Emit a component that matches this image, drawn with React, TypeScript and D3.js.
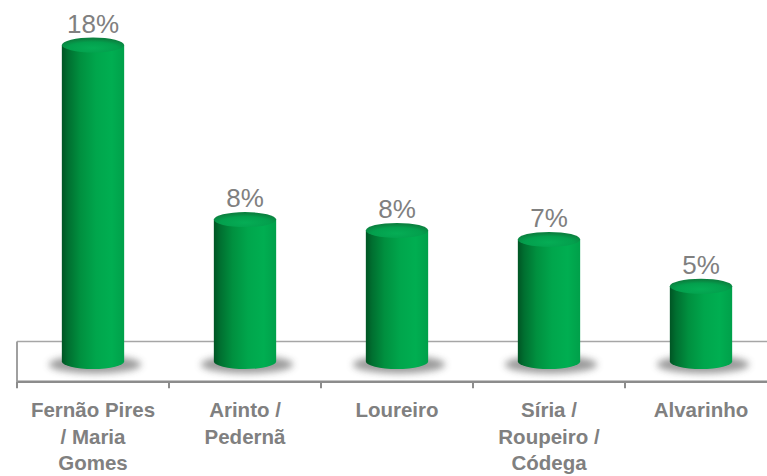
import { useEffect, useRef } from "react";
import * as d3 from "d3";

const WIDTH = 767;
const HEIGHT = 476;

// categories (line breaks as in the original labels)
const categories = [
  "Fernão Pires\n/ Maria\nGomes",
  "Arinto /\nPedernã",
  "Loureiro",
  "Síria /\nRoupeiro /\nCódega",
  "Alvarinho",
];
// share of area, %
const shares = [18.0, 8.3, 7.7, 7.2, 4.6];

const LABEL_GREY = "#808080";

function buildChart(svgEl: SVGSVGElement) {
  const svg = d3.select(svgEl);
  svg.selectAll("*").remove();

  const floorLeft = 17;
  const floorTop = 341.5;
  const floorBottom = 381.3;
  const bandStep = 152;

  const x = d3.scaleBand<string>()
    .domain(categories)
    .range([floorLeft, floorLeft + bandStep * categories.length])
    .padding(0);

  const y = d3.scaleLinear().domain([0, 18]).range([369, 45]);

  const rx = x.bandwidth() * 0.205;
  const ry = 7.5;
  const baseCy = 369 - ry;

  const defs = svg.append("defs");

  const side = defs.append("linearGradient").attr("id", "cyl-side")
    .attr("x1", 0).attr("y1", 0).attr("x2", 1).attr("y2", 0);
  [
    ["0%", "#005524"],
    ["10%", "#006f30"],
    ["30%", "#00903f"],
    ["55%", "#00a64c"],
    ["80%", "#00ae51"],
    ["100%", "#00a04a"],
  ].forEach(([o, c]) => side.append("stop").attr("offset", o).attr("stop-color", c));

  const top = defs.append("radialGradient").attr("id", "cyl-top")
    .attr("cx", "50%").attr("cy", "70%").attr("r", "60%");
  [
    ["0%", "#05ad55"],
    ["65%", "#03a04d"],
    ["100%", "#0b8240"],
  ].forEach(([o, c]) => top.append("stop").attr("offset", o).attr("stop-color", c));

  const blur = defs.append("filter").attr("id", "shadow-blur")
    .attr("x", "-50%").attr("y", "-100%").attr("width", "200%").attr("height", "300%");
  blur.append("feGaussianBlur").attr("stdDeviation", "3.5");

  // floor
  const floor = svg.append("g");
  floor.append("rect")
    .attr("x", floorLeft).attr("y", floorTop)
    .attr("width", WIDTH - floorLeft + 20).attr("height", floorBottom - floorTop)
    .attr("fill", "#ffffff");
  floor.append("line")
    .attr("x1", floorLeft).attr("x2", WIDTH + 20)
    .attr("y1", floorTop).attr("y2", floorTop)
    .attr("stroke", "#a6a6a6").attr("stroke-width", 1.5);
  floor.append("line")
    .attr("x1", floorLeft).attr("x2", floorLeft)
    .attr("y1", floorTop).attr("y2", floorBottom)
    .attr("stroke", "#a0a0a0").attr("stroke-width", 2);

  // axis along the front edge
  const axis = svg.append("g")
    .attr("transform", `translate(0,${floorBottom})`)
    .call(d3.axisBottom(x).tickSize(0).tickFormat(() => ""));
  axis.select(".domain").attr("stroke", "#8c8c8c").attr("stroke-width", 2.6);
  const bounds = d3.range(categories.length + 1).map(i => floorLeft + i * x.step());
  axis.selectAll("line.sep")
    .data(bounds)
    .join("line")
    .attr("class", "sep")
    .attr("x1", d => d).attr("x2", d => d)
    .attr("y1", 0).attr("y2", 7)
    .attr("stroke", "#8c8c8c").attr("stroke-width", 2);

  // category labels
  categories.forEach(cat => {
    const cx = (x(cat) ?? 0) + x.bandwidth() / 2;
    const t = svg.append("text")
      .attr("x", cx).attr("y", 417)
      .attr("text-anchor", "middle")
      .attr("fill", LABEL_GREY)
      .style("font-family", "'Liberation Sans', Arial, sans-serif")
      .style("font-weight", "bold")
      .style("font-size", "20.5px");
    cat.split("\n").forEach((ln, i) => {
      t.append("tspan").attr("x", cx).attr("dy", i === 0 ? 0 : 26.7).text(ln);
    });
  });

  // cylinders
  const bars = svg.append("g");
  categories.forEach((cat, i) => {
    const cx = (x(cat) ?? 0) + x.bandwidth() / 2;
    const topCy = y(shares[i]);

    // soft floor shadow
    bars.append("ellipse")
      .attr("cx", cx + 2).attr("cy", baseCy + 3)
      .attr("rx", rx + 15).attr("ry", ry + 1.5)
      .attr("fill", "#4a4a4a")
      .attr("opacity", 0.55)
      .attr("filter", "url(#shadow-blur)");

    const sidePath =
      `M ${cx - rx} ${topCy} L ${cx - rx} ${baseCy}` +
      ` A ${rx} ${ry} 0 0 0 ${cx + rx} ${baseCy} L ${cx + rx} ${topCy} Z`;
    bars.append("path")
      .attr("d", sidePath)
      .attr("fill", "url(#cyl-side)");

    bars.append("ellipse")
      .attr("cx", cx).attr("cy", topCy)
      .attr("rx", rx).attr("ry", ry)
      .attr("fill", "url(#cyl-top)");

    bars.append("text")
      .attr("x", cx).attr("y", topCy - ry - 5)
      .attr("text-anchor", "middle")
      .attr("fill", LABEL_GREY)
      .style("font-family", "'Liberation Sans', Arial, sans-serif")
      .style("font-size", "26px")
      .text(`${d3.format(".0f")(shares[i])}%`);
  });
}

export default function App() {
  const svgRef = useRef<SVGSVGElement>(null);

  useEffect(() => {
    document.body.style.margin = "0";
    if (svgRef.current) buildChart(svgRef.current);
  }, []);

  return (
    <svg
      ref={svgRef}
      width={WIDTH}
      height={HEIGHT}
      style={{ display: "block", background: "#ffffff" }}
    />
  );
}
